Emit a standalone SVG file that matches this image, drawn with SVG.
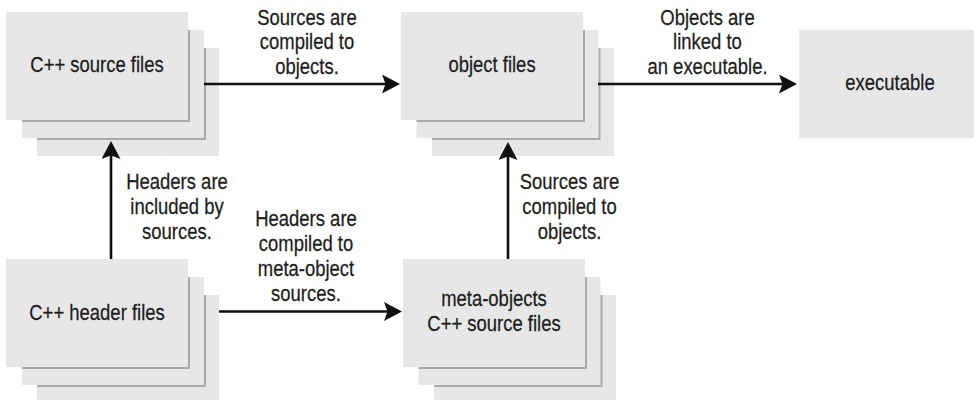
<svg xmlns="http://www.w3.org/2000/svg" width="974" height="400" viewBox="0 0 974 400">
<style>
.box{fill:#e7e7e8;stroke:none}
.sh{fill:none;stroke:#ababab;stroke-width:2}
text{font-family:"Liberation Sans",Arial,sans-serif;font-size:22px;fill:#1c1c1c;text-anchor:middle;stroke:#1c1c1c;stroke-width:0.25}
.conn{stroke:#111;stroke-width:2.6;fill:none;marker-end:url(#ah)}
</style>
<defs>
<marker id="ah" viewBox="0 0 18 19" refX="10" refY="9.5" markerWidth="18" markerHeight="19" markerUnits="userSpaceOnUse" orient="auto">
<path d="M0,0 L18,9.5 L0,19 L3.5,9.5 Z" fill="#111"/>
</marker>
</defs>
<rect width="974" height="400" fill="#fff"/>
<g id="cpp-source-files">
<rect class="box" x="37" y="48" width="182" height="108"/>
<rect class="box" x="22" y="30" width="182" height="108"/>
<path class="sh" d="M205,48 V139 H37"/>
<rect class="box" x="6" y="12" width="182" height="108"/>
<path class="sh" d="M189,30 V121 H22"/>
<text transform="translate(97,0) scale(0.84,1)" x="0" y="72.5">C++ source files</text>
</g>
<g id="object-files">
<rect class="box" x="432" y="48" width="182" height="108"/>
<rect class="box" x="416.5" y="30" width="182" height="108"/>
<path class="sh" d="M599.5,48 V139 H432"/>
<rect class="box" x="401" y="12" width="182" height="108"/>
<path class="sh" d="M584,30 V121 H416.5"/>
<text transform="translate(492,0) scale(0.84,1)" x="0" y="72.5">object files</text>
</g>
<g id="executable">
<rect class="box" x="799" y="30" width="182" height="108"/>
<text transform="translate(890,0) scale(0.84,1)" x="0" y="90.5">executable</text>
</g>
<g id="cpp-header-files">
<rect class="box" x="37" y="295" width="182" height="108"/>
<rect class="box" x="22" y="277" width="182" height="108"/>
<path class="sh" d="M205,295 V386 H37"/>
<rect class="box" x="6" y="259" width="182" height="108"/>
<path class="sh" d="M189,277 V368 H22"/>
<text transform="translate(97,0) scale(0.84,1)" x="0" y="320">C++ header files</text>
</g>
<g id="meta-objects">
<rect class="box" x="434" y="295" width="182" height="108"/>
<rect class="box" x="418.5" y="277" width="182" height="108"/>
<path class="sh" d="M601.5,295 V386 H434"/>
<rect class="box" x="403" y="259" width="182" height="108"/>
<path class="sh" d="M586,277 V368 H418.5"/>
<text transform="translate(494,0) scale(0.84,1)"><tspan x="0" y="306">meta-objects</tspan><tspan x="0" y="331.5">C++ source files</tspan></text>
</g>
<g id="connectors">
<path class="conn" d="M204,84 H392"/>
<path class="conn" d="M598,84 H789"/>
<path class="conn" d="M219,311.5 H394"/>
<path class="conn" d="M111,259 V149"/>
<path class="conn" d="M508,259 V150"/>
</g>
<g id="labels">
<text transform="translate(307,0) scale(0.84,1)"><tspan x="0" y="25">Sources are</tspan><tspan x="0" y="49.5">compiled to</tspan><tspan x="0" y="74">objects.</tspan></text>
<text transform="translate(707.5,0) scale(0.84,1)"><tspan x="0" y="25">Objects are</tspan><tspan x="0" y="49.5">linked to</tspan><tspan x="0" y="74">an executable.</tspan></text>
<text transform="translate(177,0) scale(0.84,1)"><tspan x="0" y="189.5">Headers are</tspan><tspan x="0" y="214">included by</tspan><tspan x="0" y="239">sources.</tspan></text>
<text transform="translate(569.5,0) scale(0.84,1)"><tspan x="0" y="189.5">Sources are</tspan><tspan x="0" y="214">compiled to</tspan><tspan x="0" y="239">objects.</tspan></text>
<text transform="translate(306,0) scale(0.84,1)"><tspan x="0" y="226">Headers are</tspan><tspan x="0" y="251">compiled to</tspan><tspan x="0" y="276">meta-object</tspan><tspan x="0" y="301">sources.</tspan></text>
</g>
</svg>
